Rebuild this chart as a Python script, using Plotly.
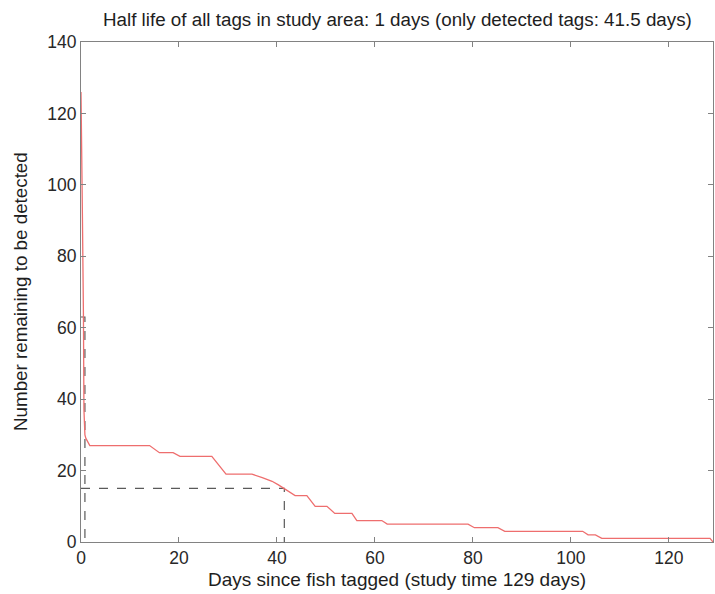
import plotly.graph_objects as go

# Red curve: number of tags remaining to be detected vs days since tagging
days = [0, 0.1, 0.3, 0.5, 0.6, 0.8, 1.0, 1.8, 14.0, 16.0, 18.8, 20.2, 26.7, 29.6,
        34.9, 37.0, 39.0, 40.3, 41.5, 43.7, 46.1, 47.8, 50.2, 51.8, 55.3, 56.3,
        61.4, 62.5, 79.0, 80.3, 85.1, 86.5, 102.4, 103.5, 105.0, 106.3, 128.4, 129.0]
remaining = [126, 118, 90, 63, 37, 30, 29, 27, 27, 25, 25, 24, 24, 19,
             19, 18, 17, 16, 15, 13, 13, 10, 10, 8, 8, 6,
             6, 5, 5, 4, 4, 3, 3, 2, 2, 1, 1, 0]

# Half-life guide lines
half_all_x = [0, 0.8, 0.8]
half_all_y = [63, 63, 0]
half_det_x = [0, 41.5, 41.5]
half_det_y = [15, 15, 0]

x_ticks = [0, 20, 40, 60, 80, 100, 120]
y_ticks = [0, 20, 40, 60, 80, 100, 120, 140]

FONT = "Liberation Sans, Arial, sans-serif"
W, H = 715, 594
L, R, T, B = 81, 2, 42, 52

fig = go.Figure()
fig.add_trace(go.Scatter(x=half_all_x, y=half_all_y, mode="lines",
                         line=dict(color="rgb(90,90,90)", width=1.2, dash="dash"),
                         hoverinfo="skip", showlegend=False))
fig.add_trace(go.Scatter(x=half_det_x, y=half_det_y, mode="lines",
                         line=dict(color="rgb(90,90,90)", width=1.2, dash="dash"),
                         hoverinfo="skip", showlegend=False))
fig.add_trace(go.Scatter(x=days, y=remaining, mode="lines",
                         line=dict(color="rgb(238,110,110)", width=1.3),
                         showlegend=False))

axis_common = dict(showgrid=False, zeroline=False, showline=True, linecolor="rgb(130,130,130)",
                   linewidth=1, mirror="ticks", ticks="inside", ticklen=5, tickwidth=1,
                   tickcolor="rgb(130,130,130)", automargin=False,
                   tickfont=dict(family=FONT, size=17.5, color="rgb(40,40,40)"))

fig.update_layout(
    width=W, height=H,
    margin=dict(l=L, r=R, t=T, b=B, autoexpand=False),
    paper_bgcolor="white", plot_bgcolor="white",
    xaxis=dict(range=[0, 129], tickvals=x_ticks, **axis_common),
    yaxis=dict(range=[0, 140], tickvals=y_ticks, **axis_common),
    annotations=[
        dict(text="Half life of all tags in study area: 1 days (only detected tags: 41.5 days)",
             xref="paper", yref="paper", x=0.5, y=1 + 22 / (H - T - B), xanchor="center", yanchor="middle",
             showarrow=False, font=dict(family=FONT, size=18.8, color="rgb(30,30,30)")),
        dict(text="Days since fish tagged (study time 129 days)",
             xref="paper", yref="paper", x=0.5, y=-(579 - (H - B)) / (H - T - B), xanchor="center",
             yanchor="middle", showarrow=False, font=dict(family=FONT, size=19, color="rgb(30,30,30)")),
        dict(text="Number remaining to be detected", textangle=-90,
             xref="paper", yref="paper", x=-(L - 20) / (W - L - R), y=0.5, xanchor="center",
             yanchor="middle", showarrow=False, font=dict(family=FONT, size=18.8, color="rgb(30,30,30)")),
    ],
)

fig.write_html("out.html", config={"displayModeBar": False},
               post_script="document.body.style.margin='0';document.body.style.overflow='hidden';")
